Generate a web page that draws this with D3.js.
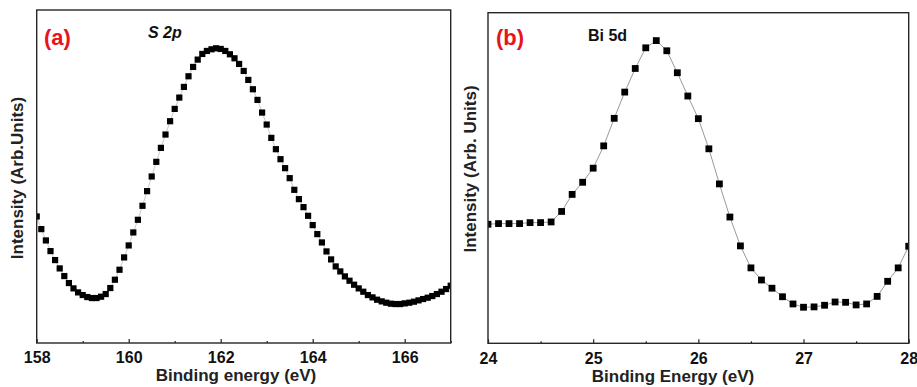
<!DOCTYPE html>
<html>
<head>
<meta charset="utf-8">
<script src="https://cdn.jsdelivr.net/npm/d3@7"></script>
<style>
  html, body { margin: 0; padding: 0; background: #fff; }
  svg { display: block; }
  text { font-family: "Liberation Sans", Arial, sans-serif; }
</style>
</head>
<body>
<svg id="chart" width="917" height="387"></svg>
<script>
// ---------- Data ----------
// Panel (a): S 2p, binding energy 158.0 .. 167.0 eV step 0.1
const energyA = d3.range(0, 91).map(i => +(158 + i * 0.1).toFixed(1));
const intensityA = [
  38.0, 34.2, 30.8, 27.6, 24.9, 22.4, 20.1, 18.0, 16.4, 15.2,
  14.4, 13.8, 13.5, 13.5, 13.9, 14.7, 16.5, 19.0, 22.0, 25.7,
  29.3, 33.2, 37.0, 41.2, 45.6, 50.0, 54.4, 58.6, 62.6, 66.6,
  70.3, 73.7, 76.9, 80.1, 82.9, 85.1, 86.8, 87.7, 88.2, 88.5,
  88.3, 87.7, 86.7, 85.5, 83.8, 81.7, 79.0, 76.2, 73.0, 69.2,
  65.6, 61.6, 58.2, 55.2, 52.5, 49.5, 46.0, 43.2, 40.8, 38.2,
  35.4, 32.7, 30.2, 27.5, 25.1, 23.0, 21.5, 20.0, 18.7, 17.5,
  16.4, 15.4, 14.4, 13.7, 13.0, 12.5, 12.1, 11.8, 11.7, 11.7,
  11.9, 12.1, 12.4, 12.8, 13.2, 13.6, 14.1, 14.7, 15.4, 16.2,
  17.2
];
const ticksA = [158, 160, 162, 164, 166];
const minorTicksA = [159, 161, 163, 165, 167];

// Panel (b): Bi 5d, binding energy 24.0 .. 28.0 eV step 0.1
const energyB = d3.range(0, 41).map(i => +(24 + i * 0.1).toFixed(1));
const intensityB = [
  36.3, 36.5, 36.5, 36.5, 36.8, 36.8, 37.0, 40.2, 45.4, 49.1,
  53.4, 60.2, 68.6, 76.6, 83.8, 90.1, 92.3, 89.2, 82.5, 75.4,
  68.5, 59.3, 48.6, 38.5, 29.7, 23.0, 19.3, 16.8, 14.2, 12.0,
  11.0, 11.1, 11.6, 12.6, 12.5, 11.7, 12.0, 14.3, 18.9, 23.0,
  29.6
];
const ticksB = [24, 25, 26, 27, 28];
const minorTicksB = [24.5, 25.5, 26.5, 27.5];

// ---------- Drawing ----------
const svg = d3.select("#chart");

function panel(cfg) {
  const g = svg.append("g");
  const x = d3.scaleLinear().domain(cfg.xDomain).range([cfg.left, cfg.right]);
  const y = d3.scaleLinear().domain([0, 100]).range([cfg.bottom, cfg.top]);

  const clipId = "clip-" + cfg.id;
  svg.append("defs").append("clipPath").attr("id", clipId)
    .append("rect")
    .attr("x", cfg.left).attr("y", cfg.top)
    .attr("width", cfg.right - cfg.left).attr("height", cfg.bottom - cfg.top);

  const pts = cfg.xs.map((e, i) => ({ e, v: cfg.ys[i] }));
  const plot = g.append("g").attr("clip-path", `url(#${clipId})`);

  plot.append("path")
    .datum(pts)
    .attr("fill", "none")
    .attr("stroke", cfg.lineColor)
    .attr("stroke-width", cfg.lineWidth)
    .attr("d", d3.line().x(d => x(d.e)).y(d => y(d.v)));

  plot.selectAll("rect.pt").data(pts).join("rect")
    .attr("class", "pt")
    .attr("x", d => x(d.e) - cfg.size / 2)
    .attr("y", d => y(d.v) - cfg.size / 2)
    .attr("width", cfg.size).attr("height", cfg.size)
    .attr("fill", "#000");

  // bottom axis with inward ticks
  const axis = d3.axisBottom(x).tickValues(cfg.ticks).tickSize(-4).tickPadding(9)
    .tickFormat(d3.format("d"));
  const ax = g.append("g").attr("transform", `translate(0,${cfg.bottom})`).call(axis);
  ax.select(".domain").remove();
  ax.selectAll(".tick line").attr("stroke", "#222").attr("stroke-width", 1.2);
  ax.selectAll(".tick text")
    .attr("font-size", 16).attr("font-weight", "bold").attr("fill", "#111")
    .attr("font-family", "Liberation Sans, Arial, sans-serif");

  const minor = d3.axisBottom(x).tickValues(cfg.minorTicks).tickSize(-2).tickFormat("");
  const mx = g.append("g").attr("transform", `translate(0,${cfg.bottom})`).call(minor);
  mx.select(".domain").remove();
  mx.selectAll(".tick line").attr("stroke", "#222").attr("stroke-width", 1.2);

  // frame
  g.append("rect")
    .attr("x", cfg.left).attr("y", cfg.top)
    .attr("width", cfg.right - cfg.left).attr("height", cfg.bottom - cfg.top)
    .attr("fill", "none").attr("stroke", "#262626").attr("stroke-width", 1.4);

  // axis titles
  g.append("text")
    .attr("x", cfg.xTitleX).attr("y", cfg.xTitleY)
    .attr("text-anchor", "middle")
    .attr("font-size", 17).attr("font-weight", "bold").attr("fill", "#222")
    .text(cfg.xTitle);

  g.append("text")
    .attr("transform", `translate(${cfg.yTitleX},${cfg.yTitleY}) rotate(-90)`)
    .attr("text-anchor", "middle")
    .attr("dominant-baseline", "central")
    .attr("font-size", 17).attr("font-weight", "bold").attr("fill", "#222")
    .text(cfg.yTitle);

  // panel letter
  g.append("text")
    .attr("x", cfg.letterX).attr("y", 45)
    .attr("font-size", 22).attr("font-weight", "bold").attr("fill", "#e8141b")
    .text(cfg.letter);

  // label
  g.append("text")
    .attr("x", cfg.labelX).attr("y", cfg.labelY)
    .attr("font-size", 16).attr("font-weight", "bold")
    .attr("font-style", cfg.labelItalic ? "italic" : "normal")
    .attr("fill", "#111")
    .text(cfg.label);
}

panel({
  id: "a", xDomain: [158, 167], left: 36.7, right: 450.7, top: 10, bottom: 343,
  xs: energyA, ys: intensityA, ticks: ticksA, minorTicks: minorTicksA,
  size: 6.2, lineColor: "#bbb", lineWidth: 0.8,
  xTitle: "Binding energy (eV)", xTitleX: 236, xTitleY: 381,
  yTitle: "Intensity (Arb.Units)", yTitleX: 17, yTitleY: 178,
  letter: "(a)", letterX: 44, label: "S 2p", labelX: 148, labelY: 38, labelItalic: true
});

panel({
  id: "b", xDomain: [24, 28], left: 488, right: 908.7, top: 12.7, bottom: 343.3,
  xs: energyB, ys: intensityB.map(v => v * 0.992), ticks: ticksB, minorTicks: minorTicksB,
  size: 6.8, lineColor: "#999", lineWidth: 1,
  xTitle: "Binding Energy (eV)", xTitleX: 673, xTitleY: 382,
  yTitle: "Intensity (Arb. Units)", yTitleX: 470, yTitleY: 169,
  letter: "(b)", letterX: 496, label: "Bi 5d", labelX: 588, labelY: 41, labelItalic: false
});
</script>
</body>
</html>
